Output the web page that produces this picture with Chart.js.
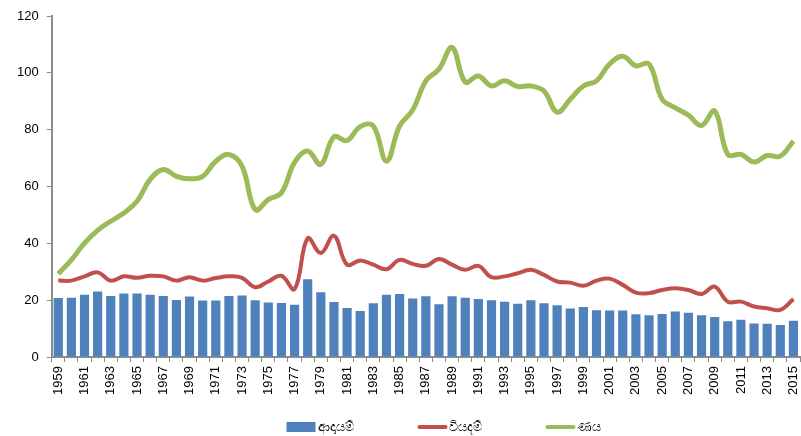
<!DOCTYPE html>
<html>
<head>
<meta charset="utf-8">
<script src="https://cdn.jsdelivr.net/npm/chart.js@4"></script>
<style>
  html, body { margin: 0; padding: 0; background: #fff; }
  #wrap { width: 801px; height: 436px; }
</style>
</head>
<body>
<div id="wrap"><canvas id="chart" width="801" height="436"></canvas></div>
<script>
// years 1959 - 2015
const years = ["1959","1960","1961","1962","1963","1964","1965","1966","1967","1968",
  "1969","1970","1971","1972","1973","1974","1975","1976","1977","1978",
  "1979","1980","1981","1982","1983","1984","1985","1986","1987","1988",
  "1989","1990","1991","1992","1993","1994","1995","1996","1997","1998",
  "1999","2000","2001","2002","2003","2004","2005","2006","2007","2008",
  "2009","2010","2011","2012","2013","2014","2015"];

// ආදායම් (bars)
const revenue = [20.8,20.9,21.9,23.1,21.5,22.4,22.4,21.9,21.5,20.1,
  21.3,19.9,19.9,21.5,21.7,20.0,19.2,19.0,18.4,27.4,
  22.8,19.4,17.3,16.2,18.9,21.9,22.2,20.6,21.4,18.6,
  21.4,20.9,20.4,20.0,19.5,18.8,20.0,18.9,18.2,17.1,
  17.6,16.5,16.4,16.4,15.1,14.7,15.2,16.0,15.6,14.7,
  14.1,12.6,13.1,11.8,11.7,11.3,12.8];

// වියදම් (red line)
const expenditure = [26.9,26.9,28.4,29.8,26.9,28.4,27.9,28.6,28.4,26.9,
  28.1,26.9,27.8,28.4,27.9,24.6,26.6,28.6,23.9,41.8,
  36.6,42.7,32.5,34.0,32.5,30.9,34.2,32.8,32.1,34.5,
  32.5,30.7,32.1,28.1,28.4,29.5,30.7,28.9,26.6,26.2,
  25.1,26.9,27.6,25.4,22.7,22.5,23.6,24.2,23.6,22.2,
  24.8,19.5,19.5,17.8,17.2,16.6,20.4];

// ණය (green line)
const debt = [29.3,34.2,40.1,44.6,47.8,50.7,54.8,62.5,66.0,63.6,
  62.7,63.6,68.9,71.3,67.2,51.9,55.4,57.8,68.5,72.5,
  67.8,77.5,76.2,81.1,81.3,68.9,81.3,86.9,97.2,101.3,
  108.9,96.8,98.9,95.4,97.2,95.2,95.4,93.6,86.2,90.7,
  95.4,97.2,103.1,105.8,102.5,103.1,90.7,87.7,85.1,81.5,
  86.6,71.3,71.3,68.6,70.9,70.7,76.0];

const seriesNames = ["ආදායම්", "වියදම්", "ණය"];
const yTicks = [0, 20, 40, 60, 80, 100, 120];

const axisColor = "#8c8c8c";
const tickFont = { family: "Liberation Sans, Arial, sans-serif", size: 13 };

// legend drawn by hand so the spacing can follow the original
const legendPlugin = {
  id: "bottomLegend",
  afterDraw(chart) {
    const ctx = chart.ctx;
    const order = [2, 1, 0]; // bar, red, green
    const sw = 29, gap = 2, space = 64;
    ctx.save();
    ctx.font = "13px 'Noto Sans', sans-serif";
    ctx.textBaseline = "middle";
    const items = order.map(function (di) {
      const ds = chart.data.datasets[di];
      return { ds: ds, w: sw + gap + ctx.measureText(ds.label).width };
    });
    const total = items.reduce(function (s, it) { return s + it.w; }, 0) + space * (items.length - 1);
    let x = (chart.width - total) / 2 + 43;
    const y = 427;
    items.forEach(function (it) {
      const ds = it.ds;
      if (ds.type === "bar") {
        ctx.fillStyle = ds.backgroundColor;
        ctx.fillRect(x, y - 5, sw, 10);
      } else {
        ctx.strokeStyle = ds.borderColor;
        ctx.lineWidth = 4;
        ctx.lineCap = "round";
        ctx.beginPath();
        ctx.moveTo(x + 2, y);
        ctx.lineTo(x + sw - 1, y);
        ctx.stroke();
      }
      ctx.fillStyle = "#000";
      ctx.fillText(ds.label, x + sw + gap, y);
      x += it.w + space;
    });
    ctx.restore();
  }
};

new Chart(document.getElementById("chart"), {
  data: {
    labels: years,
    datasets: [
      {
        type: "line",
        label: seriesNames[2],
        data: debt,
        borderColor: "#9bbb59",
        backgroundColor: "#9bbb59",
        borderWidth: 5,
        pointRadius: 0,
        tension: 0.4,
        order: 1
      },
      {
        type: "line",
        label: seriesNames[1],
        data: expenditure,
        borderColor: "#c0504d",
        backgroundColor: "#c0504d",
        borderWidth: 4,
        pointRadius: 0,
        tension: 0.4,
        order: 2
      },
      {
        type: "bar",
        label: seriesNames[0],
        data: revenue,
        backgroundColor: "#4f81bd",
        barPercentage: 0.7,
        categoryPercentage: 1.0,
        order: 3
      }
    ]
  },
  options: {
    responsive: false,
    animation: false,
    layout: { padding: { left: 9, right: 1, top: 16, bottom: 37 } },
    plugins: {
      tooltip: { enabled: false },
      legend: { display: false }
    },
    scales: {
      x: {
        offset: true,
        afterFit: function (scale) {
          scale.paddingRight = 0;
        },
        grid: {
          offset: true,
          drawOnChartArea: false,
          drawTicks: true,
          tickLength: 5,
          color: axisColor
        },
        border: { color: axisColor, width: 2 },
        ticks: {
          autoSkip: false,
          minRotation: 90,
          maxRotation: 90,
          color: "#000",
          font: tickFont,
          padding: 4,
          callback: function (v, i) { return i % 2 === 0 ? years[i] : ""; }
        }
      },
      y: {
        min: 0,
        max: 120,
        afterBuildTicks: function (axis) {
          axis.ticks = yTicks.map(function (v) { return { value: v }; });
        },
        grid: {
          drawOnChartArea: false,
          drawTicks: true,
          tickLength: 5,
          color: axisColor
        },
        border: { color: axisColor, width: 2 },
        ticks: { color: "#000", font: tickFont, padding: 8 }
      }
    }
  },
  plugins: [legendPlugin]
});
</script>
</body>
</html>
